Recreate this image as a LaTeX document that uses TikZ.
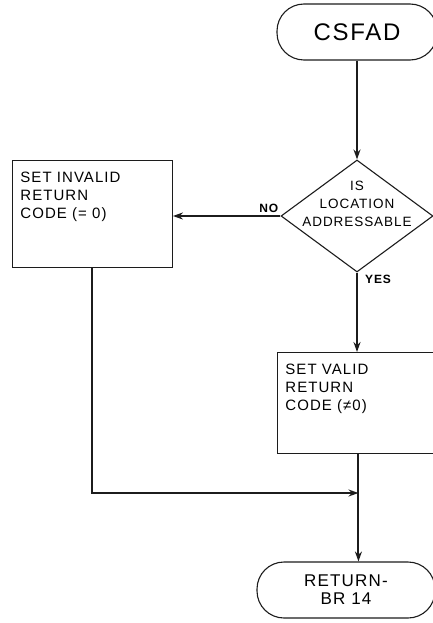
\documentclass[tikz,border=0pt]{standalone}
\usepackage{fontspec}
\setmainfont{Liberation Sans}[LetterSpace=7]
\usepackage{tikz}
\usetikzlibrary{arrows.meta, positioning, shapes.geometric, calc}
\definecolor{flowink}{HTML}{1C1C1C}
\definecolor{flowpaper}{HTML}{FFFFFF}
% the question is wider than the diamond, as in the drawing
\newcommand{\spill}[1]{\makebox[30pt]{\begin{tabular}[b]{@{}c@{}}#1\end{tabular}}\rule[-28pt]{0pt}{28pt}}

\begin{document}
\begin{tikzpicture}[
  x=1pt, y=1pt,
  font=\fontsize{15}{18}\selectfont,
  terminal/.style={
    draw=flowink,
    line width=1.1pt,
    rounded corners=27pt,
    minimum width=160pt,
    minimum height=56pt,
    align=center
  },
  decision/.style={
    draw=flowink,
    line width=1.1pt,
    diamond,
    minimum width=152pt,
    minimum height=112pt,
    inner sep=0pt,
    font=\fontsize{13.5}{18}\selectfont
  },
  process/.style={
    draw=flowink,
    line width=0.9pt,
    inner xsep=8pt,
    inner ysep=12pt,
    anchor=north west
  },
  tag/.style={font=\fontsize{12}{13}\selectfont\bfseries, inner sep=1pt},
  flow/.style={-{Stealth[length=10pt, width=7pt]}, line width=2pt, draw=flowink}
]
\useasboundingbox[fill=flowpaper] (0,0) rectangle (433,-623);

\node[terminal, font=\fontsize{24}{28}\selectfont] (start) at (357,-32) {CSFAD};
\node[decision] (test) at (357,-216) {\spill{IS\\LOCATION\\ADDRESSABLE}};

\node[process] (invalid) at (12,-160)
  {\parbox[t][83pt][t]{144pt}{SET INVALID\\RETURN\\CODE (= 0)}};
\node[process] (valid) at (277,-352)
  {\parbox[t][77pt][t]{146pt}{SET VALID\\RETURN\\CODE (≠0)}};

\node[terminal, minimum width=178pt, font=\fontsize{17}{18}\selectfont] (return) at (346,-590)
  {RETURN-\\BR 14};

\node[tag, anchor=south east] (no) at ([xshift=-1pt,yshift=2pt]test.west) {NO};
\node[tag, anchor=north west] (yes) at ([xshift=7pt,yshift=-1pt]test.south) {YES};

\coordinate (merge) at (valid.south |- 0,-493);

\draw[flow] (start.south) -- (test.north);
\draw[flow] (test.west) -- (test.west -| invalid.east);
\draw[flow] (test.south) -- (test.south |- valid.north);
\draw[flow] (invalid.south) |- (merge);
\draw[flow] (valid.south) -- (valid.south |- return.north);

\end{tikzpicture}
\end{document}
